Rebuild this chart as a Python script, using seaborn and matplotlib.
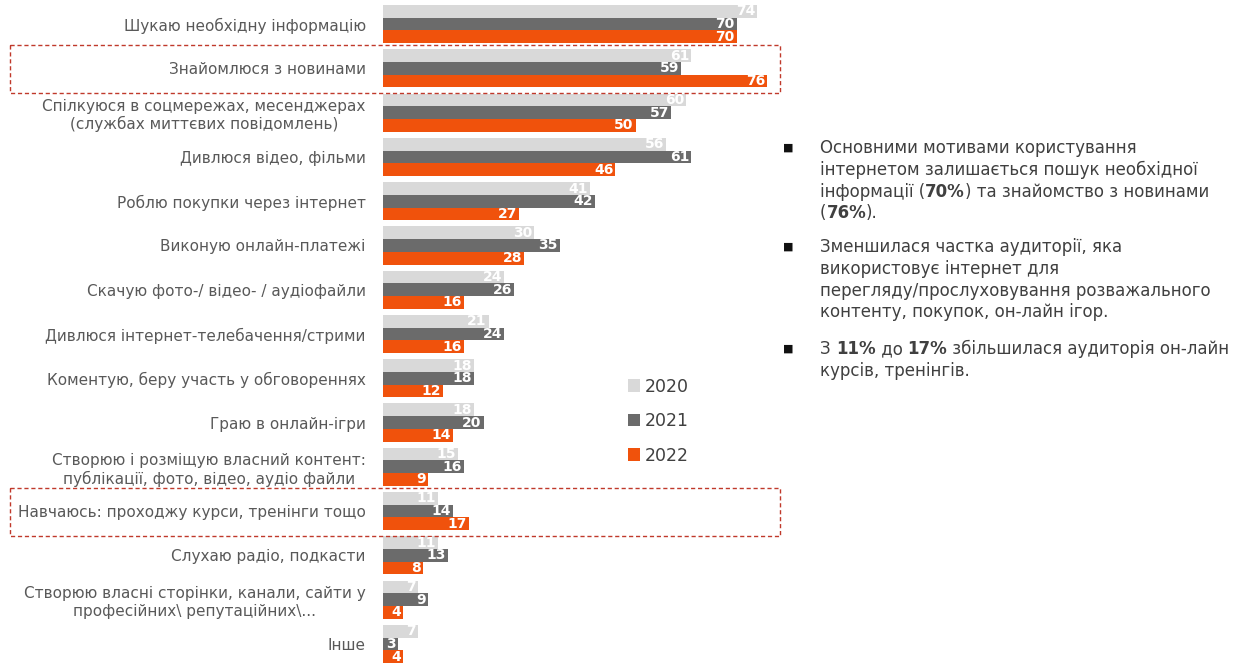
import numpy as np
import pandas as pd
import matplotlib
matplotlib.use("Agg")
import matplotlib.pyplot as plt
import matplotlib.transforms as mtransforms
from matplotlib.patches import Rectangle
import seaborn as sns

# ======================
# DATA
# ======================
categories = [
    "Шукаю необхідну інформацію",
    "Знайомлюся з новинами",
    "Спілкуюся в соцмережах, месенджерах\n(службах миттєвих повідомлень)",
    "Дивлюся відео, фільми",
    "Роблю покупки через інтернет",
    "Виконую онлайн-платежі",
    "Скачую фото-/ відео- / аудіофайли",
    "Дивлюся інтернет-телебачення/стрими",
    "Коментую, беру участь у обговореннях",
    "Граю в онлайн-ігри",
    "Створюю і розміщую власний контент:\nпублікації, фото, відео, аудіо файли",
    "Навчаюсь: проходжу курси, тренінги тощо",
    "Слухаю радіо, подкасти",
    "Створюю власні сторінки, канали, сайти у\nпрофесійних\\ репутаційних\\...",
    "Інше",
]
years = ["2020", "2021", "2022"]
v2020 = [74, 61, 60, 56, 41, 30, 24, 21, 18, 18, 15, 11, 11, 7, 7]
v2021 = [70, 59, 57, 61, 42, 35, 26, 24, 18, 20, 16, 14, 13, 9, 3]
v2022 = [70, 76, 50, 46, 27, 28, 16, 16, 12, 14, 9, 17, 8, 4, 4]
highlighted = [1, 11]

colors = {"2020": "#d9d9d9", "2021": "#6b6b6b", "2022": "#f0520c"}

df = pd.DataFrame({
    "category": categories * 3,
    "year": [y for y in years for _ in categories],
    "value": v2020 + v2021 + v2022,
})

# ======================
# PLOT
# ======================
sns.set_style("white")
plt.rcParams["font.family"] = ["DejaVu Sans"]

fig = plt.figure(figsize=(12.42, 6.66), dpi=100)
ax = fig.add_axes([0.308, 0.0, 0.326, 0.997])

sns.barplot(data=df, x="value", y="category", hue="year", order=categories,
            hue_order=years, palette=colors, orient="h", width=0.86,
            saturation=1, linewidth=0, errorbar=None, ax=ax, legend=True)

ax.set_xlim(0, 80)
ax.set_ylim(len(categories) - 0.5, -0.5)
ax.set_xlabel("")
ax.set_ylabel("")
ax.set_xticks([])
for s in ax.spines.values():
    s.set_visible(False)
ax.tick_params(axis="y", length=0, pad=12, labelsize=11, labelcolor="#595959")
for lbl in ax.get_yticklabels():
    lbl.set_multialignment("center")

# value labels inside bar ends
for cont in ax.containers:
    for bar in cont:
        w = bar.get_width()
        ax.text(w - 0.4, bar.get_y() + bar.get_height() / 2, f"{w:.0f}",
                ha="right", va="center", color="white", fontsize=10,
                fontweight="bold")

# legend
handles, labels = ax.get_legend_handles_labels()
ax.legend(handles, labels, loc="upper left", bbox_to_anchor=(612 / 1242, 1 - 362 / 666),
          bbox_transform=fig.transFigure, frameon=False, fontsize=12.5,
          handlelength=0.7, handleheight=0.7, handletextpad=0.3,
          labelspacing=0.95, labelcolor="#404040")

# dashed highlight boxes
trans = mtransforms.blended_transform_factory(fig.transFigure, ax.transData)
for i in highlighted:
    ax.add_patch(Rectangle((10 / 1242, i - 0.52), 770 / 1242, 1.08,
                           transform=trans, fill=False, edgecolor="#c0392b",
                           linestyle=(0, (3, 2)), linewidth=1.0, clip_on=False))

# ======================
# RIGHT TEXT
# ======================
renderer = fig.canvas.get_renderer()
txt_color = "#404040"


def text_width(s, weight):
    t1 = fig.text(0, 0, "x" + s + "x", fontsize=12, fontweight=weight)
    t2 = fig.text(0, 0, "xx", fontsize=12, fontweight=weight)
    w = t1.get_window_extent(renderer).width - t2.get_window_extent(renderer).width
    t1.remove()
    t2.remove()
    return w


def draw_runs(x_px, y_px, runs):
    x = x_px
    for s, weight in runs:
        fig.text(x / 1242, 1 - y_px / 666, s, fontsize=12, fontweight=weight,
                 color=txt_color, va="center", ha="left")
        x += text_width(s, weight)


N, B = "normal", "bold"
bullets = [
    (148, [
        [("Основними мотивами користування", N)],
        [("інтернетом залишається пошук необхідної", N)],
        [("інформації (", N), ("70%", B), (") та знайомство з новинами", N)],
        [("(", N), ("76%", B), (").", N)],
    ]),
    (247, [
        [("Зменшилася частка аудиторії, яка", N)],
        [("використовує інтернет для", N)],
        [("перегляду/прослуховування розважального", N)],
        [("контенту, покупок, он-лайн ігор.", N)],
    ]),
    (349, [
        [("З ", N), ("11%", B), (" до ", N), ("17%", B), (" збільшилася аудиторія он-лайн", N)],
        [("курсів, тренінгів.", N)],
    ]),
]
for y0, lines in bullets:
    fig.text(783 / 1242, 1 - y0 / 666, "■", fontsize=8, color="#111111",
             va="center", ha="left")
    for k, runs in enumerate(lines):
        draw_runs(820, y0 + k * 21.8, runs)

fig.savefig("out.png", dpi=100)
